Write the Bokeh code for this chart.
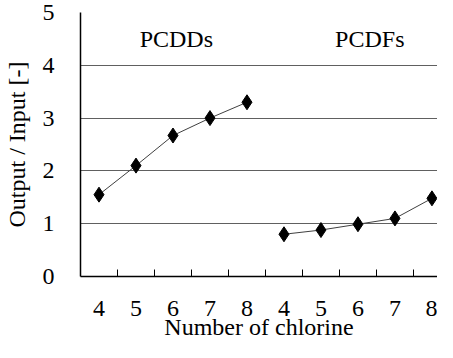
from bokeh.plotting import figure
from bokeh.models import Range1d, FixedTicker, Label
from bokeh.embed import file_html
from bokeh.resources import INLINE

# ---- data ----
chlorine = [4, 5, 6, 7, 8]
pcdds = [1.55, 2.10, 2.67, 3.00, 3.30]
pcdfs = [0.80, 0.88, 0.99, 1.10, 1.48]
groups = ["PCDDs", "PCDFs"]
x_title = "Number of chlorine"
y_title = "Output / Input [-]"
y_ticks = [0, 1, 2, 3, 4, 5]

FONT = "'Liberation Serif', 'Times New Roman', serif"
FS = "24px"

n = len(chlorine)
x_dd = [i + 0.5 for i in range(n)]
x_df = [n + i + 0.5 for i in range(n)]
centers = x_dd + x_df
labels = {c: str(v) for c, v in zip(centers, chlorine + chlorine)}
bounds = list(range(1, 2 * n))

p = figure(width=437, height=342, output_backend="svg", toolbar_location=None,
           x_range=Range1d(0, 9.65), y_range=Range1d(0, 5),
           min_border=0, min_border_top=12, min_border_right=0, min_border_left=71,
           min_border_bottom=0,
           background_fill_color="white", border_fill_color="white")
p.outline_line_color = None

# x axis
p.xaxis.ticker = FixedTicker(ticks=centers, minor_ticks=bounds)
p.xaxis.major_label_overrides = labels
p.xaxis.major_tick_line_color = None
p.xaxis.minor_tick_in = 7
p.xaxis.minor_tick_out = 0
p.xaxis.minor_tick_line_color = "black"
p.xaxis.minor_tick_line_width = 1
p.xaxis.axis_line_color = "black"
p.xaxis.axis_line_width = 1.5
p.xaxis.major_label_standoff = 18
p.xaxis.axis_label = x_title
p.xaxis.axis_label_standoff = -5
p.xaxis.axis_label_text_font_style = "normal"

# y axis
p.yaxis.ticker = FixedTicker(ticks=y_ticks)
p.yaxis.major_tick_line_color = None
p.yaxis.minor_tick_line_color = None
p.yaxis.axis_line_color = "black"
p.yaxis.axis_line_width = 1.5
p.yaxis.major_label_standoff = 20
p.yaxis.axis_label = y_title
p.yaxis.axis_label_standoff = 10
p.yaxis.axis_label_text_font_style = "normal"

for ax in (p.xaxis, p.yaxis):
    ax.major_label_text_font = FONT
    ax.major_label_text_font_size = FS
    ax.major_label_text_color = "black"
    ax.axis_label_text_font = FONT
    ax.axis_label_text_font_size = FS
    ax.axis_label_text_color = "black"

p.xgrid.grid_line_color = None
p.ygrid.ticker = FixedTicker(ticks=y_ticks[1:])
p.ygrid.grid_line_color = "#606060"
p.ygrid.grid_line_width = 1.2

for xs, ys in ((x_dd, pcdds), (x_df, pcdfs)):
    p.line(xs, ys, line_color="#404040", line_width=1)
    p.scatter(xs, ys, marker="diamond", size=15, fill_color="black", line_color="black")

# group annotations
group_x = [sum(x_dd) / n + 0.09, sum(x_df) / n + 0.32]
group_y = 4.5
for gx, g in zip(group_x, groups):
    p.add_layout(Label(x=gx, y=group_y, text=g, text_font=FONT, text_font_size=FS,
                       text_align="center", text_baseline="middle", text_color="black"))

open("out.html", "w").write(file_html(p, INLINE))
